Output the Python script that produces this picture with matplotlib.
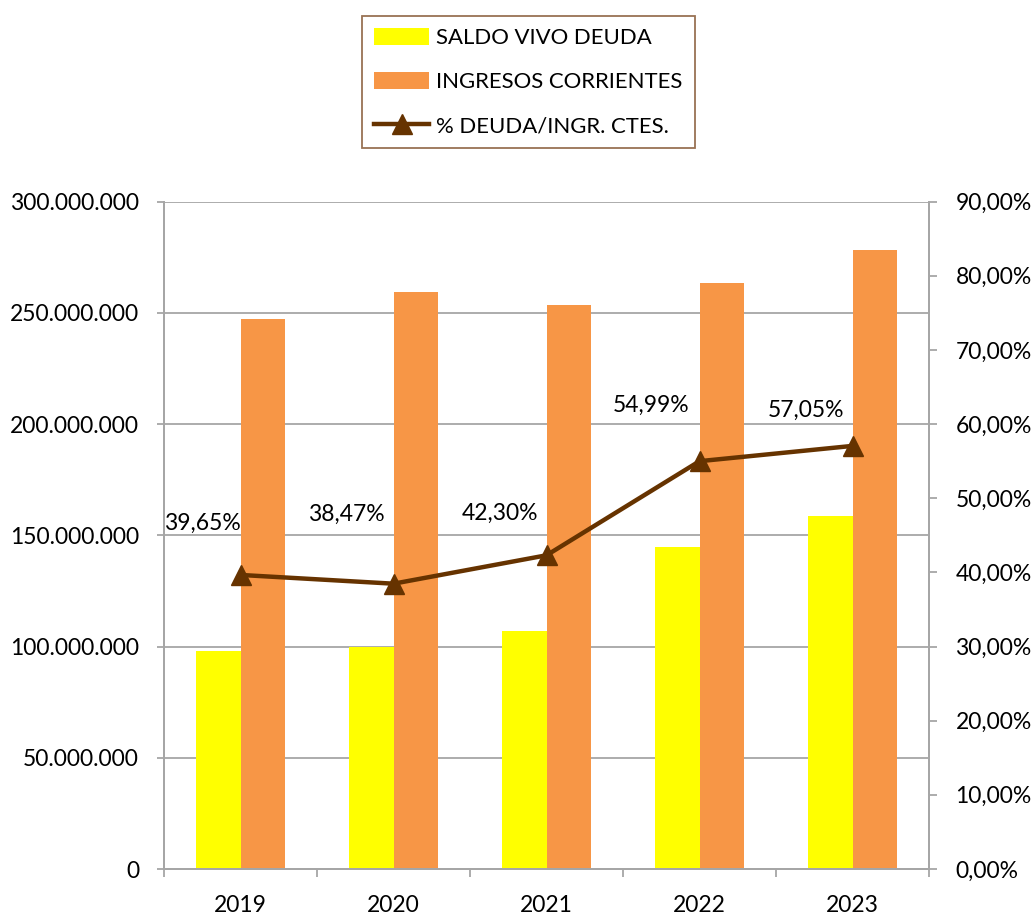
import matplotlib
matplotlib.use("Agg")
import matplotlib.pyplot as plt
from matplotlib.ticker import FuncFormatter, MultipleLocator
import numpy as np

years = ["2019", "2020", "2021", "2022", "2023"]
saldo_deuda = [98.0e6, 99.8e6, 107.1e6, 144.8e6, 158.7e6]
ingresos = [247.3e6, 259.5e6, 253.3e6, 263.4e6, 278.2e6]
pct = [39.65, 38.47, 42.30, 54.99, 57.05]

# label offsets (pixels) relative to each point, as placed in the original
label_dx = [-38, -47, -47, -48, -46]
label_dy = [52, 69, 42, 56, 36]

plt.rcParams['font.family'] = ['Lato', 'DejaVu Sans']
FS = 16.5

fig = plt.figure(figsize=(10.35, 9.16), dpi=100)
ax = fig.add_axes([0.1585, 0.0513, 0.7391, 0.7287])
ax2 = ax.twinx()

x = np.arange(len(years))
w = 0.29
grid_c = '#A6A6A6'
b1 = ax.bar(x - w/2, saldo_deuda, w, color='#FFFF00', label='SALDO VIVO DEUDA', zorder=2)
b2 = ax.bar(x + w/2, ingresos, w, color='#F79646', label='INGRESOS CORRIENTES', zorder=2)
ax.set_ylim(0, 300e6)
ax.set_xlim(-0.5, len(years) - 0.5)
ax.yaxis.set_major_locator(MultipleLocator(50e6))
ax.yaxis.set_major_formatter(FuncFormatter(lambda v, p: f"{int(v):,}".replace(",", ".")))
ax.grid(axis='y', color=grid_c, linewidth=1.3, zorder=0)
ax.set_axisbelow(True)
ax.set_xticks(x)
ax.set_xticklabels(years)
ax.set_xticks(np.arange(-0.5, len(years)), minor=True)
ax.tick_params(axis='x', which='major', length=0, labelsize=FS, pad=19)
ax.tick_params(axis='x', which='minor', length=6, color=grid_c, width=1.3, direction='out')
ax.tick_params(axis='y', length=5, color=grid_c, width=1.3, labelsize=FS, pad=13)

ln, = ax2.plot(x, pct, color='#663300', linewidth=3.2, marker='^', markersize=15,
               label='% DEUDA/INGR. CTES.', zorder=5)
ax2.set_ylim(0, 90)
ax2.yaxis.set_major_locator(MultipleLocator(10))
ax2.yaxis.set_major_formatter(FuncFormatter(lambda v, p: f"{v:.2f}%".replace(".", ",")))
ax2.tick_params(axis='y', length=6, color=grid_c, width=1.3, labelsize=FS, pad=13)

for xi, p, dx, dy in zip(x, pct, label_dx, label_dy):
    ax2.annotate(f"{p:.2f}%".replace(".", ","), (xi, p), xytext=(dx, dy),
                 textcoords='offset pixels',
                 ha='center', va='center', fontsize=FS, zorder=6)

for a in (ax, ax2):
    for s in a.spines.values():
        s.set_color(grid_c)
        s.set_linewidth(1.3)
    a.spines['top'].set_visible(False)

leg = fig.legend(handles=[b1, b2, ln], loc='upper left',
                 bbox_to_anchor=(362/1035, 1 - 16/916), frameon=True,
                 fontsize=15.9, handlelength=2.5, handleheight=0.8,
                 labelspacing=1.08, borderpad=0.55, fancybox=False,
                 handletextpad=0.3, borderaxespad=0)
leg.get_frame().set_edgecolor('#7F4F2A')
leg.get_frame().set_linewidth(1.3)

fig.savefig("out.png", dpi=100)
